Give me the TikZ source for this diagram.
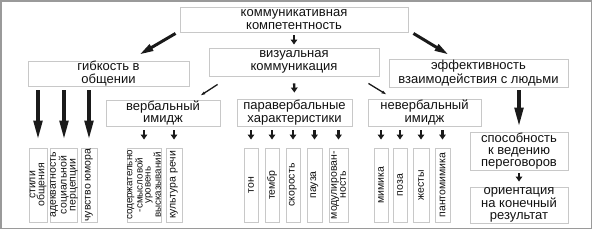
\documentclass[tikz,border=0pt]{standalone}
\usepackage{fontspec}
\setmainfont{Liberation Sans}
\usetikzlibrary{arrows.meta,calc}
\definecolor{boxgray}{HTML}{C8C8C8}
\definecolor{framegray}{HTML}{9A9A9A}
\definecolor{txt}{HTML}{111111}
\definecolor{arr}{HTML}{1A1A1A}
\begin{document}
\begin{tikzpicture}[x=1pt,y=-1pt,
  hbox/.style={draw=boxgray, line width=0.9pt, inner sep=0pt, align=center,
    font=\fontsize{13}{12.3}\selectfont, text=txt},
  vbox/.style={draw=boxgray, line width=0.9pt, inner sep=0pt, align=center, rotate=90,
    minimum width=74pt, font=\fontsize{10.5}{9}\selectfont, text=txt},
  bigarr/.style={draw=arr, line width=3.6pt, -{Triangle[length=19pt,width=8.5pt]}},
  diagarr/.style={draw=arr, line width=3pt, -{Triangle[length=14pt,width=7pt]}},
  thinarr/.style={draw=arr, line width=1.3pt, -{Triangle[length=5pt,width=2.6pt]}},
  smallarr/.style={draw=arr, line width=2.4pt, -{Triangle[length=5pt,width=6.5pt]}},
]
\useasboundingbox (0,0) rectangle (593,232);
\draw[framegray, line width=1.2pt] (1,1) rectangle (591.5,228.5);

% main boxes
\node[hbox, minimum width=228pt, minimum height=25pt] (top) at (294,19.5) {коммуникативная\\компетентность};
\node[hbox, minimum width=170pt, minimum height=28pt] (viz) at (294,62) {визуальная\\коммуникация};
\node[hbox, minimum width=161pt, minimum height=25pt] (gib) at (108.5,73.5) {гибкость в\\общении};
\node[hbox, minimum width=179pt, minimum height=28pt] (eff) at (478.5,73) {эффективность\\взаимодействия с людьми};
\node[hbox, minimum width=114pt, minimum height=26pt] (verb) at (163,113) {вербальный\\имидж};
\node[hbox, minimum width=115pt, minimum height=27pt] (para) at (294.5,112.5) {паравербальные\\характеристики};
\node[hbox, minimum width=113pt, minimum height=27pt] (nev) at (424.5,112.5) {невербальный\\имидж};
\node[hbox, minimum width=98pt, minimum height=38pt] (spos) at (519,151) {способность\\к ведению\\переговоров};
\node[hbox, minimum width=98pt, minimum height=36pt] (orie) at (519,205) {ориентация\\на конечный\\результат};

% vertical boxes
\node[vbox, minimum height=18pt] (st) at (38,185) {стили\\общения};
\node[vbox, minimum height=26pt] (ad) at (64,185) {адекватность\\социальной\\перцепции};
\node[vbox, minimum height=16pt] (ch) at (89,185) {чувство юмора};
\node[vbox, minimum height=32pt, font=\fontsize{9.8}{8}\selectfont] (sod) at (144,185) {содержательно\\-смысловой\\уровень\\высказываний};
\node[vbox, minimum height=16pt] (kul) at (174,185) {культура речи};
\node[vbox, minimum height=14pt] (ton) at (251,185) {тон};
\node[vbox, minimum height=14pt] (tem) at (272,185) {тембр};
\node[vbox, minimum height=14pt] (sko) at (293,185) {скорость};
\node[vbox, minimum height=15pt] (pau) at (314.5,185) {пауза};
\node[vbox, minimum height=19pt] (mod) at (338.5,185) {модулирован-\\ность};
\node[vbox, minimum height=14pt] (mim) at (381,185) {мимика};
\node[vbox, minimum height=14pt] (poz) at (400,185) {поза};
\node[vbox, minimum height=16pt] (zhe) at (421,185) {жесты};
\node[vbox, minimum height=15pt] (pan) at (442.5,185) {пантомимика};

% connectors
\draw[smallarr, shorten <=3pt, shorten >=3pt] (top.south -| viz.north) -- (viz.north);
\draw[smallarr, shorten <=7pt, shorten >=6pt] (viz.south) -- (para.north);
\draw[diagarr] ($(top.south west)+(-4,1)$) -- ($(gib.north)+(31,-6)$);
\draw[diagarr] ($(top.south east)+(5,1)$) -- ($(eff.north)+(-30,-4)$);
\draw[thinarr] ($(viz.south west)+(9,8)$) -- ($(verb.north east)+(-20,-4)$);
\draw[thinarr] ($(viz.south east)+(-11,7)$) -- ($(nev.north west)+(19,-4)$);

\foreach \c in {st,ad,ch}
  \draw[bigarr, shorten <=4pt, shorten >=8pt] (gib.south -| \c.east) -- (\c.east);
\foreach \c in {sod,kul}
  \draw[smallarr, shorten <=4pt, shorten >=8pt] (verb.south -| \c.east) -- (\c.east);
\foreach \c in {ton,tem,sko,pau,mod}
  \draw[smallarr, shorten <=4pt, shorten >=8pt] (para.south -| \c.east) -- (\c.east);
\foreach \c in {mim,poz,zhe,pan}
  \draw[smallarr, shorten <=4pt, shorten >=8pt] (nev.south -| \c.east) -- (\c.east);

\draw[bigarr, shorten <=3pt, shorten >=5pt] (eff.south -| spos.north) -- (spos.north);
\draw[smallarr, shorten <=3pt, shorten >=5pt] (spos.south) -- (orie.north);
\end{tikzpicture}
\end{document}
